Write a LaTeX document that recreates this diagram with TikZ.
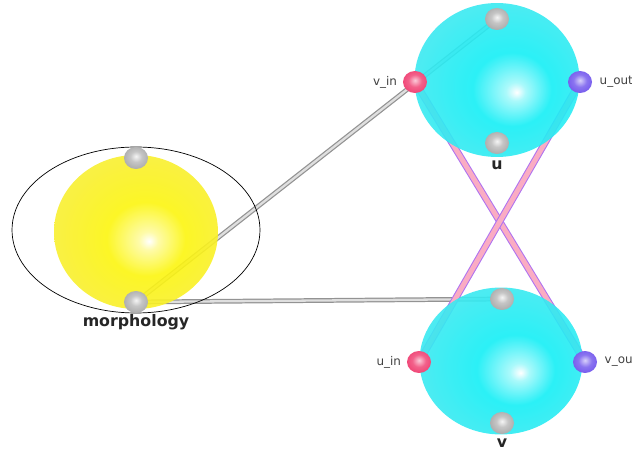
\documentclass[tikz,border=0pt]{standalone}
\usepackage{fontspec}
\setmainfont{DejaVu Sans}
\usetikzlibrary{shapes.geometric}
\definecolor{cyanmid}{RGB}{20,238,245}
\definecolor{cyanedge}{RGB}{118,226,234}
\definecolor{yellowmid}{RGB}{252,245,15}
\definecolor{yellowedge}{RGB}{240,228,105}
\definecolor{linkpink}{RGB}{250,172,195}
\definecolor{linkviolet}{RGB}{175,115,240}
\definecolor{portred}{RGB}{238,45,100}
\definecolor{portblue}{RGB}{100,70,235}
\pgfdeclareradialshading{cyanglow}{\pgfpoint{6bp}{-4bp}}{color(0bp)=(white);color(3bp)=(cyanmid!40!white);color(12bp)=(cyanmid);color(40bp)=(cyanedge!70!cyanmid);color(50bp)=(cyanedge)}
\pgfdeclareradialshading{yellowglow}{\pgfpoint{4bp}{-3bp}}{color(0bp)=(white);color(3bp)=(yellowmid!40!white);color(12bp)=(yellowmid);color(40bp)=(yellowedge!70!yellowmid);color(50bp)=(yellowedge)}
\pgfdeclareradialshading{grayball}{\pgfpoint{0bp}{4bp}}{color(0bp)=(white!92!gray);color(12bp)=(gray!45);color(38bp)=(gray!80);color(50bp)=(gray!95)}
\pgfdeclareradialshading{redball}{\pgfpoint{0bp}{4bp}}{color(0bp)=(portred!25!white);color(14bp)=(portred!75!white);color(38bp)=(portred);color(50bp)=(portred!85!black)}
\pgfdeclareradialshading{blueball}{\pgfpoint{0bp}{4bp}}{color(0bp)=(portblue!25!white);color(14bp)=(portblue!75!white);color(38bp)=(portblue);color(50bp)=(portblue!85!black)}
\pgfdeclarelayer{bg}
\pgfsetlayers{bg,main}
\tikzset{
  sphere/.style={ellipse,inner sep=0pt,fill opacity=0.9,shade,shading=#1},
  port/.style={ellipse,inner sep=0pt,minimum width=0.48cm,minimum height=0.44cm,shade,shading=#1},
  portlabel/.style={font=\fontsize{6.8}{8}\selectfont,text=black!75,inner sep=1pt},
  namelabel/.style={font=\fontsize{9}{11}\selectfont\bfseries,text=black!85,inner sep=1pt},
  graylink/.style={line width=0.7pt,draw=gray!85,double=gray!25,double distance=1.3pt},
  pinklink/.style={line width=0.6pt,draw=linkviolet,double=linkpink,double distance=2.8pt}
}
\begin{document}
\begin{tikzpicture}[x=0.02cm,y=-0.02cm]
\useasboundingbox (0,0) rectangle (632,452);
\node[sphere=yellowglow,minimum width=3.28cm,minimum height=3.08cm] (morph) at (136,232) {};
\node[draw,ellipse,thin,inner sep=0pt,minimum width=4.96cm,minimum height=3.32cm] (morphring) at (136,230) {};
\node[sphere=cyanglow,minimum width=3.3cm,minimum height=3.08cm] (u) at (497,80) {};
\node[sphere=cyanglow,minimum width=3.26cm,minimum height=2.94cm] (v) at (501,361) {};
\node[port=grayball] (morphtop) at (136,158) {};
\node[port=grayball] (morphbot) at (136,302) {};
\node[port=grayball] (utop) at (497,19) {};
\node[port=grayball] (ubot) at (497,143) {};
\node[port=redball] (vin) at (415,82) {};
\node[port=blueball] (uout) at (580,82) {};
\node[port=grayball] (vtop) at (502,299) {};
\node[port=grayball] (vbot) at (502,423) {};
\node[port=redball] (uin) at (419,362) {};
\node[port=blueball] (vout) at (585,362) {};
\node[portlabel,left=2pt] (vinlabel) at (vin.west) {v\_in};
\node[portlabel,right=3pt] (uoutlabel) at (uout.east) {u\_out};
\node[portlabel,left=2pt] (uinlabel) at (uin.west) {u\_in};
\node[portlabel,right=3pt] (voutlabel) at (vout.east) {v\_ou};
\node[namelabel] (ulabel) at (497,165) {u};
\node[namelabel] (vlabel) at (502,443) {v};
\node[namelabel] (morphlabel) at (136,322) {morphology};
\begin{pgfonlayer}{bg}
\draw[graylink] (morphbot.center) -- (utop.center);
\draw[graylink] (morphbot.center) -- (vtop.center);
\draw[pinklink] (vin.center) -- (vout.center);
\draw[pinklink] (uout.center) -- (uin.center);
\end{pgfonlayer}
\end{tikzpicture}
\end{document}
